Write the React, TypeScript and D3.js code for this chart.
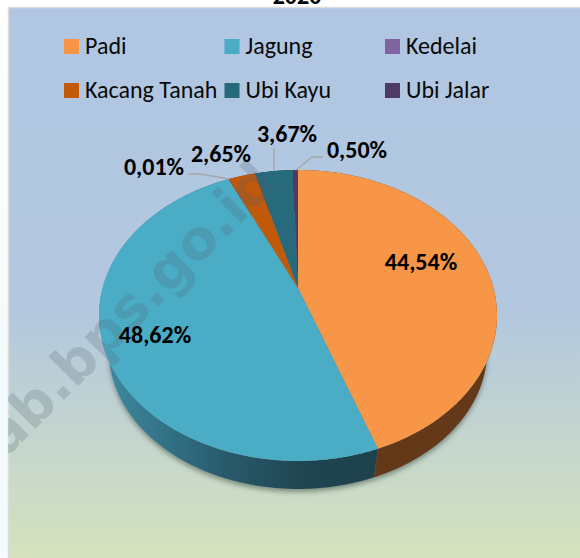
import React from "react";
import * as d3 from "d3";

const categories = ["Padi", "Jagung", "Kedelai", "Kacang Tanah", "Ubi Kayu", "Ubi Jalar"];
const shares = [44.54, 48.62, 0.01, 2.65, 3.67, 0.5];
const shareLabels = ["44,54%", "48,62%", "0,01%", "2,65%", "3,67%", "0,50%"];
const topColors = ["#f79646", "#4bacc6", "#8064a2", "#c0590a", "#276a7c", "#4f3a66"];
const wallColors = ["#64391a", "url(#blueWall)", "#33283f", "#5e2f08", "#173f4a", "#2c2039"];
const legendColors = ["#f79646", "#4bacc6", "#8064a2", "#c0590a", "#276a7c", "#4f3a66"];

const W = 580, H = 558;
const apexX = 298, apexY = 288, a = 195.4, b = 140.3, k = 0.189;
const wallScale = 0.95, wallDrop = 36.6;
const FONT = "Carlito, Calibri, 'Open Sans', 'Noto Sans', sans-serif";

const project = (t: number, s = 1, dy = 0): [number, number] => {
  const X = Math.sin(t), Y = -Math.cos(t);
  const w = 1 - k * Y;
  return [apexX + (s * a * X) / w, apexY + (s * b * Y) / w + dy];
};
const line = d3.line();
const arcs = d3.pie<number>().sortValues(null).value((d) => d)(shares);

function samples(start: number, end: number, s = 1, dy = 0): [number, number][] {
  const n = Math.max(2, Math.ceil((end - start) / 0.01));
  return d3.range(n + 1).map((i) => project(start + ((end - start) * i) / n, s, dy));
}
const topPath = (s: number, e: number) => line([[apexX, apexY], ...samples(s, e)]) + "Z";
const wallPath = (s: number, e: number) =>
  line([...samples(s, e), ...samples(s, e, wallScale, wallDrop).reverse()]) + "Z";

const legendSwatchX = d3.scalePoint<number>().domain([0, 1, 2]).range([64, 385]);
const legendRowY = d3.scalePoint<number>().domain([0, 1]).range([46, 90]);

const labelPos: [number, number][] = [
  [421, 264], [155, 337], [154, 169], [221, 156], [287, 136], [357, 152],
];
const leaders: [number, number][][] = [
  [], [],
  [[188, 174], [200, 174], [229, 179]],
  [],
  [[274, 148], [274, 171]],
  [[323, 157], [312, 157], [296, 170]],
];

export default function App() {
  const shadow = line(samples(0, 2 * Math.PI, wallScale, wallDrop)) + "Z";
  return (
    <svg width={W} height={H} style={{ position: "absolute", left: 0, top: 0 }}>
      <defs>
        <linearGradient id="panel" x1="0" y1="0" x2="0" y2="1">
          <stop offset="0" stopColor="#b0c6e2" />
          <stop offset="0.55" stopColor="#b3c8df" />
          <stop offset="1" stopColor="#d6e3bc" />
        </linearGradient>
        <linearGradient id="blueWall" gradientUnits="userSpaceOnUse" x1="105" y1="0" x2="378" y2="0">
          <stop offset="0" stopColor="#3d8aa1" />
          <stop offset="0.45" stopColor="#28596b" />
          <stop offset="0.75" stopColor="#1f444f" />
          <stop offset="1" stopColor="#1d424d" />
        </linearGradient>
        <linearGradient id="margin" x1="0" y1="0" x2="0" y2="1">
          <stop offset="0" stopColor="#ffffff" />
          <stop offset="0.7" stopColor="#f2fbfd" />
          <stop offset="1" stopColor="#f6fbfd" />
        </linearGradient>
        <filter id="soft" x="-10%" y="-10%" width="120%" height="120%">
          <feGaussianBlur stdDeviation="2.5" />
        </filter>
        <clipPath id="panelClip"><rect x={8} y={7} width={W} height={H} /></clipPath>
      </defs>
      <rect width={W} height={H} fill="#ffffff" />
      <rect x={0} y={7} width={8} height={H - 7} fill="url(#margin)" />
      <rect x={8.5} y={7.5} width={W} height={H} fill="url(#panel)" stroke="#dcdcdc" strokeWidth={1.5} />
      <text x={297} y={4} textAnchor="middle" fontFamily={FONT} fontSize={24} fontWeight={700} fill="#000">2020</text>

      {categories.map((c, i) => {
        const x = legendSwatchX(i % 3)!, y = legendRowY(Math.floor(i / 3))!;
        return (
          <g key={c}>
            <rect x={x} y={y - 7} width={15} height={15} fill={legendColors[i]} />
            <text x={x + 21} y={y + 8} fontFamily={FONT} fontSize={24} fill="#0a0a0a">{c}</text>
          </g>
        );
      })}

      <path d={shadow} transform="translate(0,3)" fill="#4a5a50" opacity={0.6} filter="url(#soft)" />
      {arcs.map((d, i) => <path key={i} d={wallPath(d.startAngle, d.endAngle)} fill={wallColors[i]} />)}
      {arcs.map((d, i) => <path key={i} d={topPath(d.startAngle, d.endAngle)} fill={topColors[i]} />)}

      {leaders.map((pts, i) => pts.length ? (
        <path key={i} d={line(pts)!} fill="none" stroke="#a6a6a6" strokeWidth={1.3} />
      ) : null)}

      <g clipPath="url(#panelClip)">
        <text transform="translate(-20,484) rotate(-45)" fontFamily="'DejaVu Sans', Verdana, sans-serif" fontWeight={700} fontSize={55} fill="#4f6070" opacity={0.22}>kab.bps.go.id</text>
      </g>

      {shareLabels.map((t, i) => (
        <text key={t} x={labelPos[i][0]} y={labelPos[i][1]} textAnchor="middle" dominantBaseline="middle"
          fontFamily={FONT} fontSize={24} fontWeight={700} fill="#000">{t}</text>
      ))}
    </svg>
  );
}
